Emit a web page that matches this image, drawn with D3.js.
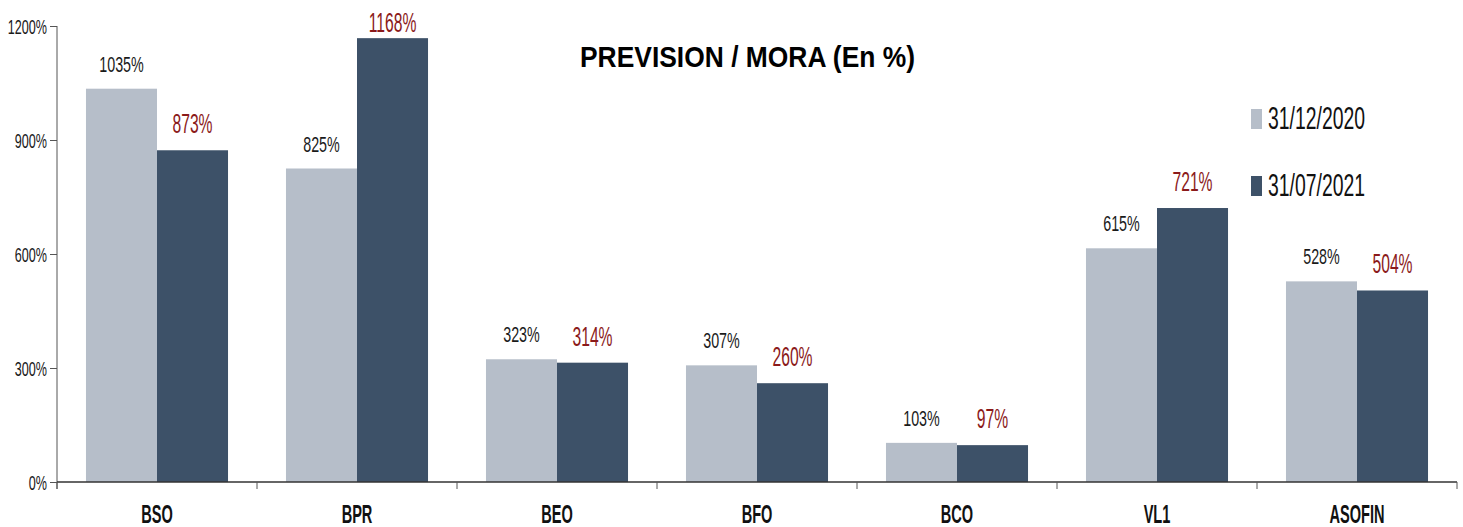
<!DOCTYPE html>
<html>
<head>
<meta charset="utf-8">
<script src="https://cdn.jsdelivr.net/npm/d3@7"></script>
<style>
  body { margin: 0; background: #fff; }
  svg { display: block; }
  text { font-family: "Liberation Sans", Arial, sans-serif; }
</style>
</head>
<body>
<svg id="chart" width="1463" height="527"></svg>
<script>
// chart data
var categories = ["BSO", "BPR", "BEO", "BFO", "BCO", "VL1", "ASOFIN"];
var seriesNames = ["31/12/2020", "31/07/2021"];
var values2020 = [1035, 825, 323, 307, 103, 615, 528];
var values2021 = [873, 1168, 314, 260, 97, 721, 504];
var yTicks = [0, 300, 600, 900, 1200];

var colors = ["#b6bec9", "#3d5168"];
var labelColors = ["#1a1a1a", "#8b1a1a"];

var svg = d3.select("#chart");
// plot edges ("top" is taken by window.top, so prefix them)
var plotLeft = 57, plotRight = 1457, plotTop = 26, plotBottom = 482;

var x0 = d3.scaleBand().domain(categories).range([plotLeft, plotRight]).padding(0);
var x1 = d3.scaleBand().domain(seriesNames).range([0, x0.bandwidth()])
  .paddingInner(0).paddingOuter(0.408);
var y = d3.scaleLinear().domain([0, 1200]).range([plotBottom, plotTop]);

// rows: one per category, with both values
var rows = categories.map(function(c, i){
  return {cat: c, vals: [values2020[i], values2021[i]]};
});
function splitVals(d){
  return d.vals.map(function(v, k){ return {s: seriesNames[k], v: v, k: k}; });
}

// bars
var groups = svg.selectAll("g.grp").data(rows).enter().append("g")
  .attr("class", "grp")
  .attr("transform", function(d){ return "translate(" + x0(d.cat) + ",0)"; });

groups.selectAll("rect").data(splitVals).enter().append("rect")
  .attr("x", function(d){ return x1(d.s); })
  .attr("y", function(d){ return y(d.v); })
  .attr("width", x1.bandwidth())
  .attr("height", function(d){ return y(0) - y(d.v); })
  .attr("fill", function(d){ return colors[d.k]; });

// value labels (text in the picture is tall and narrow, so squeeze it)
groups.selectAll("text.val").data(splitVals).enter().append("text")
  .attr("class", "val")
  .attr("text-anchor", "middle")
  .attr("font-size", function(d){ return d.k == 0 ? 22 : 27; })
  .attr("fill", function(d){ return labelColors[d.k]; })
  .attr("transform", function(d){
    var cx = x1(d.s) + x1.bandwidth() / 2;
    var cy = Math.max(y(d.v) - 17, 32);
    return "translate(" + cx + "," + cy + ") scale(" + (d.k == 0 ? 0.65 : 0.58) + ",1)";
  })
  .text(function(d){ return d.v + "%"; });

// y axis
var yAxis = svg.append("g")
  .attr("transform", "translate(" + plotLeft + ",0)")
  .call(d3.axisLeft(y).tickValues(yTicks).tickSize(7).tickFormat(function(d){ return d + "%"; }));
yAxis.select(".domain").attr("stroke", "#555").attr("d", "M0," + plotTop + "V" + (plotBottom + 7));
yAxis.selectAll(".tick line").attr("stroke", "#555");
yAxis.selectAll(".tick text")
  .attr("font-family", "Liberation Sans, Arial, sans-serif")
  .attr("font-size", 21)
  .attr("fill", "#1a1a1a")
  .attr("x", -10 / 0.6)
  .attr("dy", "0.36em")
  .attr("transform", "scale(0.6,1)");

// x axis line and boundary ticks
svg.append("line")
  .attr("x1", plotLeft).attr("x2", plotRight)
  .attr("y1", y(0)).attr("y2", y(0))
  .attr("stroke", "#333").attr("stroke-width", 1.6);
var bounds = categories.map(function(c){ return x0(c); }).concat([plotRight]);
svg.selectAll("line.xtick").data(bounds).enter().append("line")
  .attr("class", "xtick")
  .attr("x1", function(d){ return d; }).attr("x2", function(d){ return d; })
  .attr("y1", y(0)).attr("y2", y(0) + 7)
  .attr("stroke", "#555");

// x labels
var xAxis = svg.append("g")
  .attr("transform", "translate(0," + 523 + ")")
  .call(d3.axisBottom(x0).tickSize(0).tickPadding(0));
xAxis.select(".domain").remove();
xAxis.selectAll(".tick text")
  .attr("font-family", "Liberation Sans, Arial, sans-serif")
  .attr("font-weight", "bold")
  .attr("font-size", 26)
  .attr("fill", "#111")
  .attr("y", 0).attr("dy", 0)
  .attr("transform", "scale(0.56,1)");

// title
svg.append("text")
  .attr("x", 580).attr("y", 67)
  .attr("font-family", "DejaVu Sans, sans-serif")
  .attr("font-weight", "bold")
  .attr("font-size", 30)
  .attr("fill", "#000")
  .attr("textLength", 335)
  .attr("lengthAdjust", "spacingAndGlyphs")
  .text("PREVISION / MORA (En %)");

// legend
var legend = svg.selectAll("g.leg").data(seriesNames).enter().append("g")
  .attr("class", "leg")
  .attr("transform", function(d, i){ return "translate(1251," + (129 + i * 67) + ")"; });
legend.append("rect")
  .attr("x", 0).attr("y", -20)
  .attr("width", 11).attr("height", 20)
  .attr("fill", function(d, i){ return colors[i]; });
legend.append("text")
  .attr("x", 17).attr("y", 0)
  .attr("font-size", 31)
  .attr("fill", "#111")
  .attr("textLength", 97)
  .attr("lengthAdjust", "spacingAndGlyphs")
  .text(function(d){ return d; });
</script>
</body>
</html>
